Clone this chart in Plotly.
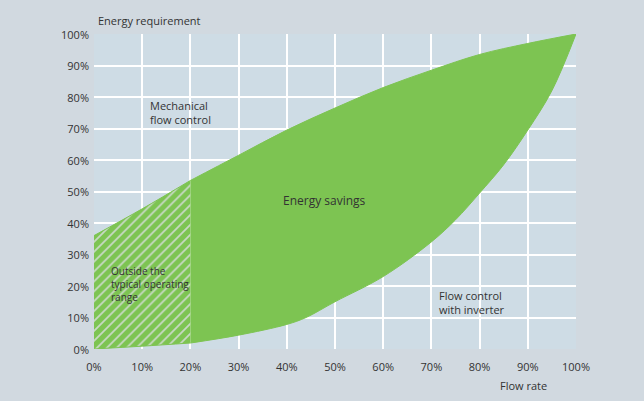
import plotly.graph_objects as go

# Data
flow = [0, 10, 20, 30, 40, 50, 60, 70, 80, 90, 100]
mechanical = [36, 44.5, 53.5, 61.5, 69.5, 76.5, 83, 88.5, 93.5, 97, 100]

flow_inv = [0, 10, 20, 30, 40, 44, 50, 60, 70, 75, 80, 85, 90, 95, 100]
inverter = [0, 0.9, 1.9, 4.4, 7.8, 10, 15, 23, 34, 41, 49.5, 58.5, 69.5, 82, 100]

x_ticks = [0, 10, 20, 30, 40, 50, 60, 70, 80, 90, 100]
x_labels = [f"{v}%" for v in x_ticks]
y_ticks = [0, 10, 20, 30, 40, 50, 60, 70, 80, 90, 100]
y_labels = [f"{v}%" for v in y_ticks]

GREEN = "#7dc452"
PLOT_BG = "#cedce5"
PAPER_BG = "#d1d9e0"
TEXT = "#333333"
FONT = "Open Sans"

split = 20

def part(xs, ys, lo, hi):
    px, py = [], []
    for x, y in zip(xs, ys):
        if lo <= x <= hi:
            px.append(x)
            py.append(y)
    return px, py

line_style = dict(width=1, color=GREEN, shape="spline", smoothing=1.0)

fig = go.Figure()

# Hatched region (0-20%)
lx, ly = part(flow_inv, inverter, 0, split)
ux, uy = part(flow, mechanical, 0, split)
fig.add_trace(go.Scatter(x=lx, y=ly, mode="lines", line=line_style,
                         hoverinfo="skip", showlegend=False))
fig.add_trace(go.Scatter(x=ux, y=uy, mode="lines", line=line_style,
                         fill="tonexty", fillcolor=GREEN,
                         fillpattern=dict(shape="/", bgcolor=GREEN, fgcolor="#c9d9c6",
                                          size=7, solidity=0.25, fillmode="replace"),
                         hoverinfo="skip", showlegend=False))

# Solid region (20-100%)
lx, ly = part(flow_inv, inverter, split, 100)
ux, uy = part(flow, mechanical, split, 100)
fig.add_trace(go.Scatter(x=lx, y=ly, mode="lines", line=line_style,
                         hoverinfo="skip", showlegend=False))
fig.add_trace(go.Scatter(x=ux, y=uy, mode="lines", line=line_style,
                         fill="tonexty", fillcolor=GREEN,
                         hoverinfo="skip", showlegend=False))

ann_font = dict(family=FONT, size=11, color=TEXT)
annotations = [
    dict(xref="paper", yref="paper", x=0.004, y=1.044, text="Energy requirement",
         xanchor="left", yanchor="middle", font=ann_font),
    dict(xref="x", yref="y", x=11.1, y=75, text="Mechanical<br>flow control", xanchor="left",
         yanchor="middle", align="left", font=ann_font),
    dict(xref="x", yref="y", x=47.9, y=47, text="Energy savings", xanchor="center",
         yanchor="middle", font=dict(family=FONT, size=12, color=TEXT)),
    dict(xref="x", yref="y", x=3.2, y=20.6, text="Outside the<br>typical operating<br>range",
         xanchor="left", yanchor="middle", align="left",
         font=dict(family=FONT, size=10, color=TEXT)),
    dict(xref="x", yref="y", x=71.1, y=14.9, text="Flow control<br>with inverter",
         xanchor="left", yanchor="middle", align="left", font=ann_font),
    dict(xref="paper", yref="paper", x=0.892, y=-0.117, text="Flow rate", xanchor="center",
         yanchor="middle", font=ann_font),
]
for a in annotations:
    a.update(showarrow=False)

fig.update_layout(
    width=644, height=401,
    margin=dict(l=94, r=68, t=34, b=52, pad=0),
    paper_bgcolor=PAPER_BG, plot_bgcolor=PLOT_BG,
    font=dict(family=FONT, size=11, color=TEXT),
    annotations=annotations,
    showlegend=False,
)
fig.update_xaxes(range=[0, 100], tickvals=x_ticks, ticktext=x_labels, showgrid=True,
                 gridcolor="white", gridwidth=1.5, zeroline=False, showline=False,
                 ticks="", ticklabelstandoff=10, tickfont=dict(family=FONT, size=11, color=TEXT))
fig.update_yaxes(range=[0, 100], tickvals=y_ticks, ticktext=y_labels, showgrid=True,
                 gridcolor="white", gridwidth=1.5, zeroline=False, showline=False,
                 ticks="", ticklabelstandoff=4, ticklabelshift=1,
                 tickfont=dict(family=FONT, size=11, color=TEXT))

fig.write_html("out.html")
